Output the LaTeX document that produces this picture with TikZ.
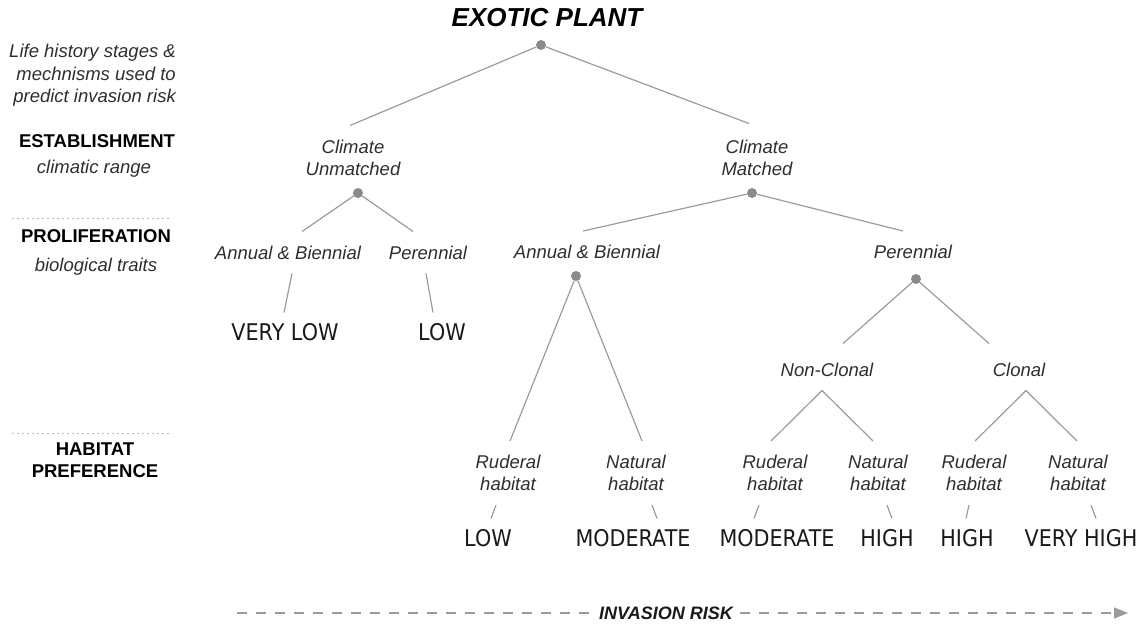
\documentclass[tikz,border=0pt]{standalone}
\usepackage{fontspec}
\setmainfont{Liberation Sans}
\newfontfamily\riskfont[FakeStretch=0.9]{DejaVu Sans}
\usetikzlibrary{arrows.meta}
\definecolor{linegray}{HTML}{9B9B9B}
\definecolor{dotgray}{HTML}{8A8A8A}
\definecolor{labgray}{HTML}{2E2E2E}
\definecolor{resblack}{HTML}{1A1A1A}
\tikzset{
  lab/.style={font=\fontsize{18.5}{22}\selectfont\itshape, text=labgray, align=center, inner xsep=2pt, inner ysep=14pt, anchor=north},
  res/.style={font=\riskfont\fontsize{23}{26}\selectfont, text=resblack, inner xsep=2pt, inner ysep=11pt, anchor=north},
  stage/.style={font=\fontsize{18.5}{22}\selectfont\bfseries, text=black, align=center},
  note/.style={font=\fontsize{18.5}{22.5}\selectfont\itshape, text=labgray},
  dot/.style={circle, fill=dotgray, inner sep=0pt, minimum size=10pt},
  branch/.style={draw=linegray, line width=1.2pt},
  sep/.style={draw=linegray!70, line width=1pt, dash pattern=on 2pt off 3pt},
  riskline/.style={draw=linegray, line width=1.4pt, dash pattern=on 10pt off 9pt},
}
\begin{document}
\begin{tikzpicture}[x=1pt, y=-1pt]
\useasboundingbox (0,0) rectangle (1143,625);

% left column
\node[note, align=right, anchor=north east, inner sep=0pt] (life) at (176,44) {Life history stages \&\\mechnisms used to\\predict invasion risk};
\node[stage] (est) at (97,141) {ESTABLISHMENT};
\node[note] (clim) at (94,169) {climatic range};
\draw[sep] (12,218) -- (172,218);
\node[stage] (prol) at (96,236) {PROLIFERATION};
\node[note] (bio) at (96,267) {biological traits};
\draw[sep] (12,433) -- (172,433);
\node[stage] (hab) at (95,460) {HABITAT\\PREFERENCE};

% tree
\node[font=\fontsize{26}{30}\selectfont\bfseries\itshape] (title) at (547,18) {EXOTIC PLANT};
\node[dot] (d0) at (541,45) {};
\node[lab] (unm) at (353,125.5) {Climate\\Unmatched};
\node[lab] (mat) at (757,125.5) {Climate\\Matched};
\node[dot] (d1) at (358,193) {};
\node[dot] (d2) at (752,193) {};
\node[lab] (ab1) at (288,231.5) {Annual \& Biennial};
\node[lab] (per1) at (428,231.5) {Perennial};
\node[lab] (ab2) at (587,231) {Annual \& Biennial};
\node[lab] (per2) at (913,231) {Perennial};
\node[dot] (d3) at (576,276) {};
\node[dot] (d4) at (916,279) {};
\node[lab] (nc) at (827,348.5) {Non-Clonal};
\node[lab] (cl) at (1019,348.5) {Clonal};
\node[lab] (rh1) at (508,441) {Ruderal\\habitat};
\node[lab] (nh1) at (636,441) {Natural\\habitat};
\node[lab] (rh2) at (775,441) {Ruderal\\habitat};
\node[lab] (nh2) at (878,441) {Natural\\habitat};
\node[lab] (rh3) at (974,441) {Ruderal\\habitat};
\node[lab] (nh3) at (1078,441) {Natural\\habitat};

\node[res] (vl) at (285,312.5) {VERY LOW};
\node[res] (lo1) at (442,312.5) {LOW};
\node[res] (lo2) at (488,518.5) {LOW};
\node[res] (mo1) at (633,518.5) {MODERATE};
\node[res] (mo2) at (777,518.5) {MODERATE};
\node[res] (hi1) at (887,518.5) {HIGH};
\node[res] (hi2) at (967,518.5) {HIGH};
\node[res] (vh) at (1081,518.5) {VERY HIGH};

\draw[branch] (d0) -- ([xshift=-3pt]unm.north);
\draw[branch] (d0) -- ([xshift=-8pt,yshift=2pt]mat.north);
\draw[branch] (d1) -- ([xshift=14pt]ab1.north);
\draw[branch] (d1) -- ([xshift=-15pt]per1.north);
\draw[branch] (d2) -- ([xshift=-4pt]ab2.north);
\draw[branch] (d2) -- ([xshift=-10pt]per2.north);
\draw[branch] (d3) -- ([xshift=2pt]rh1.north);
\draw[branch] (d3) -- ([xshift=6pt]nh1.north);
\draw[branch] (d4) -- ([xshift=16pt,yshift=5pt]nc.north);
\draw[branch] (d4) -- ([xshift=-30pt,yshift=5pt]cl.north);
\draw[branch] ([xshift=-5pt]nc.south) -- ([xshift=-4pt]rh2.north);
\draw[branch] ([xshift=-5pt]nc.south) -- ([xshift=-5pt]nh2.north);
\draw[branch] ([xshift=7pt]cl.south) -- ([xshift=1pt]rh3.north);
\draw[branch] ([xshift=7pt]cl.south) -- ([xshift=-1pt]nh3.north);

\draw[branch] ([xshift=4pt]ab1.south) -- ([xshift=-1pt]vl.north);
\draw[branch] ([xshift=-2pt]per1.south) -- ([xshift=-9pt]lo1.north);
\draw[branch] ([xshift=-12pt]rh1.south) -- ([xshift=3pt]lo2.north);
\draw[branch] ([xshift=16pt]nh1.south) -- ([xshift=24pt]mo1.north);
\draw[branch] ([xshift=-16pt]rh2.south) -- ([xshift=-23pt]mo2.north);
\draw[branch] ([xshift=9pt]nh2.south) -- ([xshift=5pt]hi1.north);
\draw[branch] ([xshift=-5pt]rh3.south) -- ([xshift=-1pt]hi2.north);
\draw[branch] ([xshift=13pt]nh3.south) -- ([xshift=15pt]vh.north);

% invasion risk arrow
\node[font=\fontsize{18}{22}\selectfont\bfseries\itshape, text=resblack, inner xsep=7pt] (risk) at (666,613) {INVASION RISK};
\coordinate (rstart) at (237,613);
\coordinate (rend) at (1128,613);
\draw[riskline] (rstart) -- (risk.west);
\draw[riskline, -{Triangle[length=14pt, width=11pt]}] (risk.east) -- (rend);
\end{tikzpicture}
\end{document}
